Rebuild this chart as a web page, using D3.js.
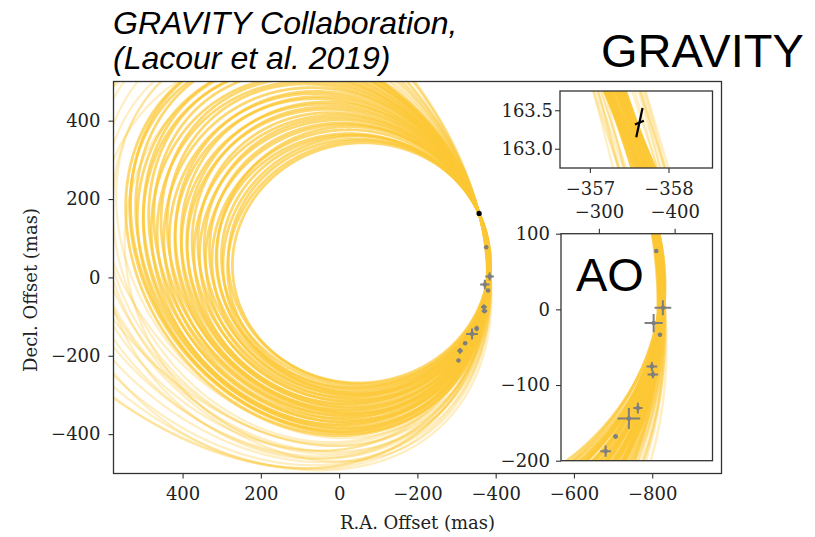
<!DOCTYPE html>
<html>
<head>
<meta charset="utf-8">
<script src="https://cdn.jsdelivr.net/npm/d3@7"></script>
<style>
body{margin:0;background:#fff}
.tick text{font-family:"DejaVu Serif",serif;fill:#222}
</style>
</head>
<body>
<script>
// orbit samples, read as the extents of each orbit (mas):
// West = crossing of y=0 east of the star, North / South = crossings of x=0
const coreWest  = [271,280,284,296,295,310,308,322,324,338,336,352,350,366,364,380,378,394,390,408,404,422,418,436,432,450,446,464,460,478,474,492,488,504,500,515]
const coreNorth = [338,350,344,362,358,366,384,376,394,390,408,402,420,414,434,428,446,440,458,452,470,464,484,478,496,490,508,502,520,514,534,526,546,540,558,552]
const coreSouth = [-266,-268,-280,-274,-288,-282,-292,-298,-294,-306,-300,-314,-308,-322,-316,-330,-324,-338,-332,-346,-340,-352,-346,-360,-354,-368,-362,-376,-370,-384,-378,-392,-386,-398,-394,-404]
const outerWest  = [530,550,570,590,610,640,660,690,720,760,800,850,900,560,600,650,700,540,620,580]
const outerNorth = [560,575,560,600,585,620,600,650,630,680,660,700,720,620,540,680,560,530,650,600]
const outerSouth = [-410,-420,-430,-425,-445,-440,-460,-455,-470,-475,-485,-480,-490,-400,-460,-430,-480,-440,-470,-450]
// offsets of each orbit (RA, mas) where it meets the measured arc (core orbits first)
const shiftG = [0.02,0.08,-0.06,0.10,-0.09,0.04,0.12,-0.11,-0.03,0.07,-0.08,0.05,-0.12,-0.04,0.09,0.00,-0.13,0.03,-0.06,0.08,-0.10,0.11,-0.02,-0.08,0.13,-0.05,-0.11,0.04,-0.07,0.10,0.01,-0.12,-0.03,0.06,-0.05,0.12,
                0.24,-0.26,0.30,-0.32,0.20,-0.28,0.28,-0.34,0.00,0.32,-0.36,0.18,-0.30,0.26,-0.20,0.10,-0.30,0.20,-0.22,0.25]
const shiftM = [2,-1,3,-2,1,-3,2,0,-2,3,-1,1,-3,2,0,-2,3,-1,1,-3,2,0,-2,3,-1,1,-3,2,0,-2,3,-1,1,-3,2,0,
                -4,4,-3,3,-5,5,-2,2,-4,4,-3,3,-5,5,-2,2,-4,4,-3,3]
const arcRA  = [-357.47, -382.5]
const arcDec = [163.34, 0]

// AO astrometry (mas)
const aoRA     = [-375.8,-384.5,-372.3,-380.6,-370.0,-371.3,-351.5,-339.6,-322.0,-308.9,-305.0]
const aoDec    = [77.1,2.2,-18.1,-33.5,-75.4,-86.0,-130.5,-144.2,-168.0,-187.4,-212.0]
const aoErrRA  = [2,11,12,2,7,7,6,15,3,7,3]
const aoErrDec = [2,10,12,2,6,5,7,14,3,7.5,3]

// GRAVITY astrometry (mas) and half-axes of its error bars
const gvRA = -357.63, gvDec = 163.34
const gvBarRA  = [-0.04, -0.057]
const gvBarDec = [0.19, 0.025]

const xTicksMain = [400,200,0,-200,-400,-600,-800]
const yTicksMain = [400,200,0,-200,-400]
const xTicksAO = [-300,-400], yTicksAO = [100,0,-100,-200]
const xTicksGV = [-357,-358], yTicksGV = [163.0,163.5]

const W = 815, H = 537
const orbitColor = "#fcc834", dataGray = "#7f7f7f", frame = "#333"

const svg = d3.select("body").append("svg").attr("width", W).attr("height", H)
svg.append("rect").attr("width", W).attr("height", H).attr("fill", "#fff")

const xMain = d3.scaleLinear().domain([576.5, -977]).range([113.5, 721.5])
const yMain = d3.scaleLinear().domain([-500.5, 500]).range([473.5, 81.5])
const xAO = d3.scaleLinear().domain([-250, -450]).range([561, 712.5])
const yAO = d3.scaleLinear().domain([-200, 100]).range([460.7, 233.7])
const xGV = d3.scaleLinear().domain([-356.62, -358.56]).range([560, 712.5])
const yGV = d3.scaleLinear().domain([162.75, 163.75]).range([168, 91])

// conic A x^2 + B xy + C y^2 + D x + E y = 1 through five points
function conic(pts) {
  const s = 1/400
  const m = pts.map(([x,y]) => { x*=s; y*=s; return [x*x, x*y, y*y, x, y, 1] })
  for (let c=0;c<5;c++) {
    let p = c
    for (let r=c+1;r<5;r++) if (Math.abs(m[r][c])>Math.abs(m[p][c])) p=r
    ;[m[c],m[p]] = [m[p],m[c]]
    for (let r=0;r<5;r++) if (r!==c) {
      const f = m[r][c]/m[c][c]
      for (let k=c;k<6;k++) m[r][k] -= f*m[c][k]
    }
  }
  const [A,B,C,D,E] = m.map((row,i) => row[5]/row[i])
  const det = 4*A*C - B*B
  if (det <= 0) return null
  const x0 = (-2*C*D + B*E)/det, y0 = (-2*A*E + B*D)/det
  const fc = A*x0*x0 + B*x0*y0 + C*y0*y0 + D*x0 + E*y0 - 1
  const out = []
  for (let i=0;i<1440;i++) {
    const t = i/1440*2*Math.PI, ux = Math.cos(t), uy = Math.sin(t)
    const r = Math.sqrt(-fc/(A*ux*ux + B*ux*uy + C*uy*uy))
    out.push([(x0 + r*ux)/s, (y0 + r*uy)/s])
  }
  return out
}

const west = coreWest.concat(outerWest)
const north = coreNorth.concat(outerNorth)
const south = coreSouth.concat(outerSouth)
const orbits = west.map((w,i) => ({
  core: i < coreWest.length,
  pts: conic([
    [arcRA[0]+shiftG[i], arcDec[0]],
    [arcRA[1]+shiftM[i], arcDec[1]],
    [w, 0], [0, north[i]], [0, south[i]]
  ])
})).filter(o => o.pts)
// faint outer orbits underneath the dense core
orbits.sort((a,b) => a.core - b.core)

function panel(id, xs, ys, lw) {
  const [x0,x1] = xs.range(), [y1,y0] = ys.range()
  svg.append("clipPath").attr("id", id).append("rect")
    .attr("x", x0).attr("y", y0).attr("width", x1-x0).attr("height", y1-y0)
  svg.append("rect").attr("x", x0).attr("y", y0).attr("width", x1-x0).attr("height", y1-y0).attr("fill", "#fff")
  const g = svg.append("g").attr("clip-path", `url(#${id})`)
  const line = d3.line().x(d => xs(d[0])).y(d => ys(d[1])).curve(d3.curveLinearClosed)
  g.selectAll("path.orbit").data(orbits).enter().append("path")
    .attr("class","orbit").attr("d", d => line(d.pts))
    .attr("fill","none").attr("stroke", orbitColor)
    .attr("stroke-width", d => d.core ? lw : lw*0.8)
    .attr("stroke-opacity", d => d.core ? 0.7 : 0.3)
  return g
}

function frameBox(xs, ys) {
  const [x0,x1] = xs.range(), [y1,y0] = ys.range()
  svg.append("rect").attr("x", x0).attr("y", y0).attr("width", x1-x0).attr("height", y1-y0)
    .attr("fill","none").attr("stroke", frame).attr("stroke-width", 1.3)
}

function styleAxis(g) {
  g.select(".domain").remove()
  g.selectAll(".tick line").attr("stroke", frame).attr("stroke-width", 1.1)
  g.selectAll(".tick text").attr("font-size", 18)
}

function aoMarks(g, xs, ys) {
  const pts = aoRA.map((x,i) => ({x, y: aoDec[i], ex: aoErrRA[i], ey: aoErrDec[i]}))
  g.selectAll("line.ex").data(pts).enter().append("line")
    .attr("x1", d => xs(d.x+d.ex)).attr("x2", d => xs(d.x-d.ex))
    .attr("y1", d => ys(d.y)).attr("y2", d => ys(d.y))
    .attr("stroke", dataGray).attr("stroke-width", 2)
  g.selectAll("line.ey").data(pts).enter().append("line")
    .attr("x1", d => xs(d.x)).attr("x2", d => xs(d.x))
    .attr("y1", d => ys(d.y+d.ey)).attr("y2", d => ys(d.y-d.ey))
    .attr("stroke", dataGray).attr("stroke-width", 2)
  g.selectAll("circle.ao").data(pts).enter().append("circle")
    .attr("cx", d => xs(d.x)).attr("cy", d => ys(d.y)).attr("r", 2.3).attr("fill", dataGray)
}

// main panel
const gMain = panel("clipMain", xMain, yMain, 2.8)
aoMarks(gMain, xMain, yMain)
gMain.append("circle").attr("cx", xMain(gvRA)).attr("cy", yMain(gvDec)).attr("r", 2.6).attr("fill", "#000")
frameBox(xMain, yMain)
svg.append("g").attr("transform", "translate(0,473.5)")
  .call(d3.axisBottom(xMain).tickValues(xTicksMain).tickSize(5).tickPadding(9)).call(styleAxis)
svg.append("g").attr("transform", "translate(113.5,0)")
  .call(d3.axisLeft(yMain).tickValues(yTicksMain).tickSize(5).tickPadding(8)).call(styleAxis)

// GRAVITY inset
const gGV = panel("clipGV", xGV, yGV, 2.6)
const gvBars = gvBarRA.map((dx,i) => [dx, gvBarDec[i]])
gGV.selectAll("line.gv").data(gvBars).enter().append("line")
  .attr("x1", d => xGV(gvRA+d[0])).attr("y1", d => yGV(gvDec+d[1]))
  .attr("x2", d => xGV(gvRA-d[0])).attr("y2", d => yGV(gvDec-d[1]))
  .attr("stroke", "#000").attr("stroke-width", 2.2)
frameBox(xGV, yGV)
svg.append("g").attr("transform", "translate(0,168)")
  .call(d3.axisBottom(xGV).tickValues(xTicksGV).tickSize(5).tickPadding(9).tickFormat(d3.format("d"))).call(styleAxis)
svg.append("g").attr("transform", "translate(560,0)")
  .call(d3.axisLeft(yGV).tickValues(yTicksGV).tickSize(5).tickPadding(2).tickFormat(d3.format(".1f"))).call(styleAxis)

// AO inset
const gAO = panel("clipAO", xAO, yAO, 3.2)
aoMarks(gAO, xAO, yAO)
frameBox(xAO, yAO)
svg.append("g").attr("transform", "translate(0,233.7)")
  .call(d3.axisTop(xAO).tickValues(xTicksAO).tickSize(5).tickPadding(11)).call(styleAxis)
svg.append("g").attr("transform", "translate(561,0)")
  .call(d3.axisLeft(yAO).tickValues(yTicksAO).tickSize(5).tickPadding(6)).call(styleAxis)

// labels
svg.append("text").attr("x", 417.5).attr("y", 529).attr("text-anchor", "middle")
  .attr("font-family", "DejaVu Serif").attr("font-size", 18).attr("fill", "#222").text("R.A. Offset (mas)")
svg.append("text").attr("transform", "translate(37,290) rotate(-90)").attr("text-anchor", "middle")
  .attr("font-family", "DejaVu Serif").attr("font-size", 18).attr("fill", "#222").text("Decl. Offset (mas)")

const sans = "'Liberation Sans', Arial, sans-serif"
svg.append("text").attr("x", 113).attr("y", 34).attr("font-family", sans).attr("font-style", "italic")
  .attr("font-size", 32).text("GRAVITY Collaboration,")
svg.append("text").attr("x", 113).attr("y", 69).attr("font-family", sans).attr("font-style", "italic")
  .attr("font-size", 32).text("(Lacour et al. 2019)")
svg.append("text").attr("x", 601).attr("y", 67).attr("font-family", sans).attr("font-size", 47).text("GRAVITY")
svg.append("text").attr("x", 576).attr("y", 291).attr("font-family", sans).attr("font-size", 47).text("AO")
</script>
</body>
</html>
